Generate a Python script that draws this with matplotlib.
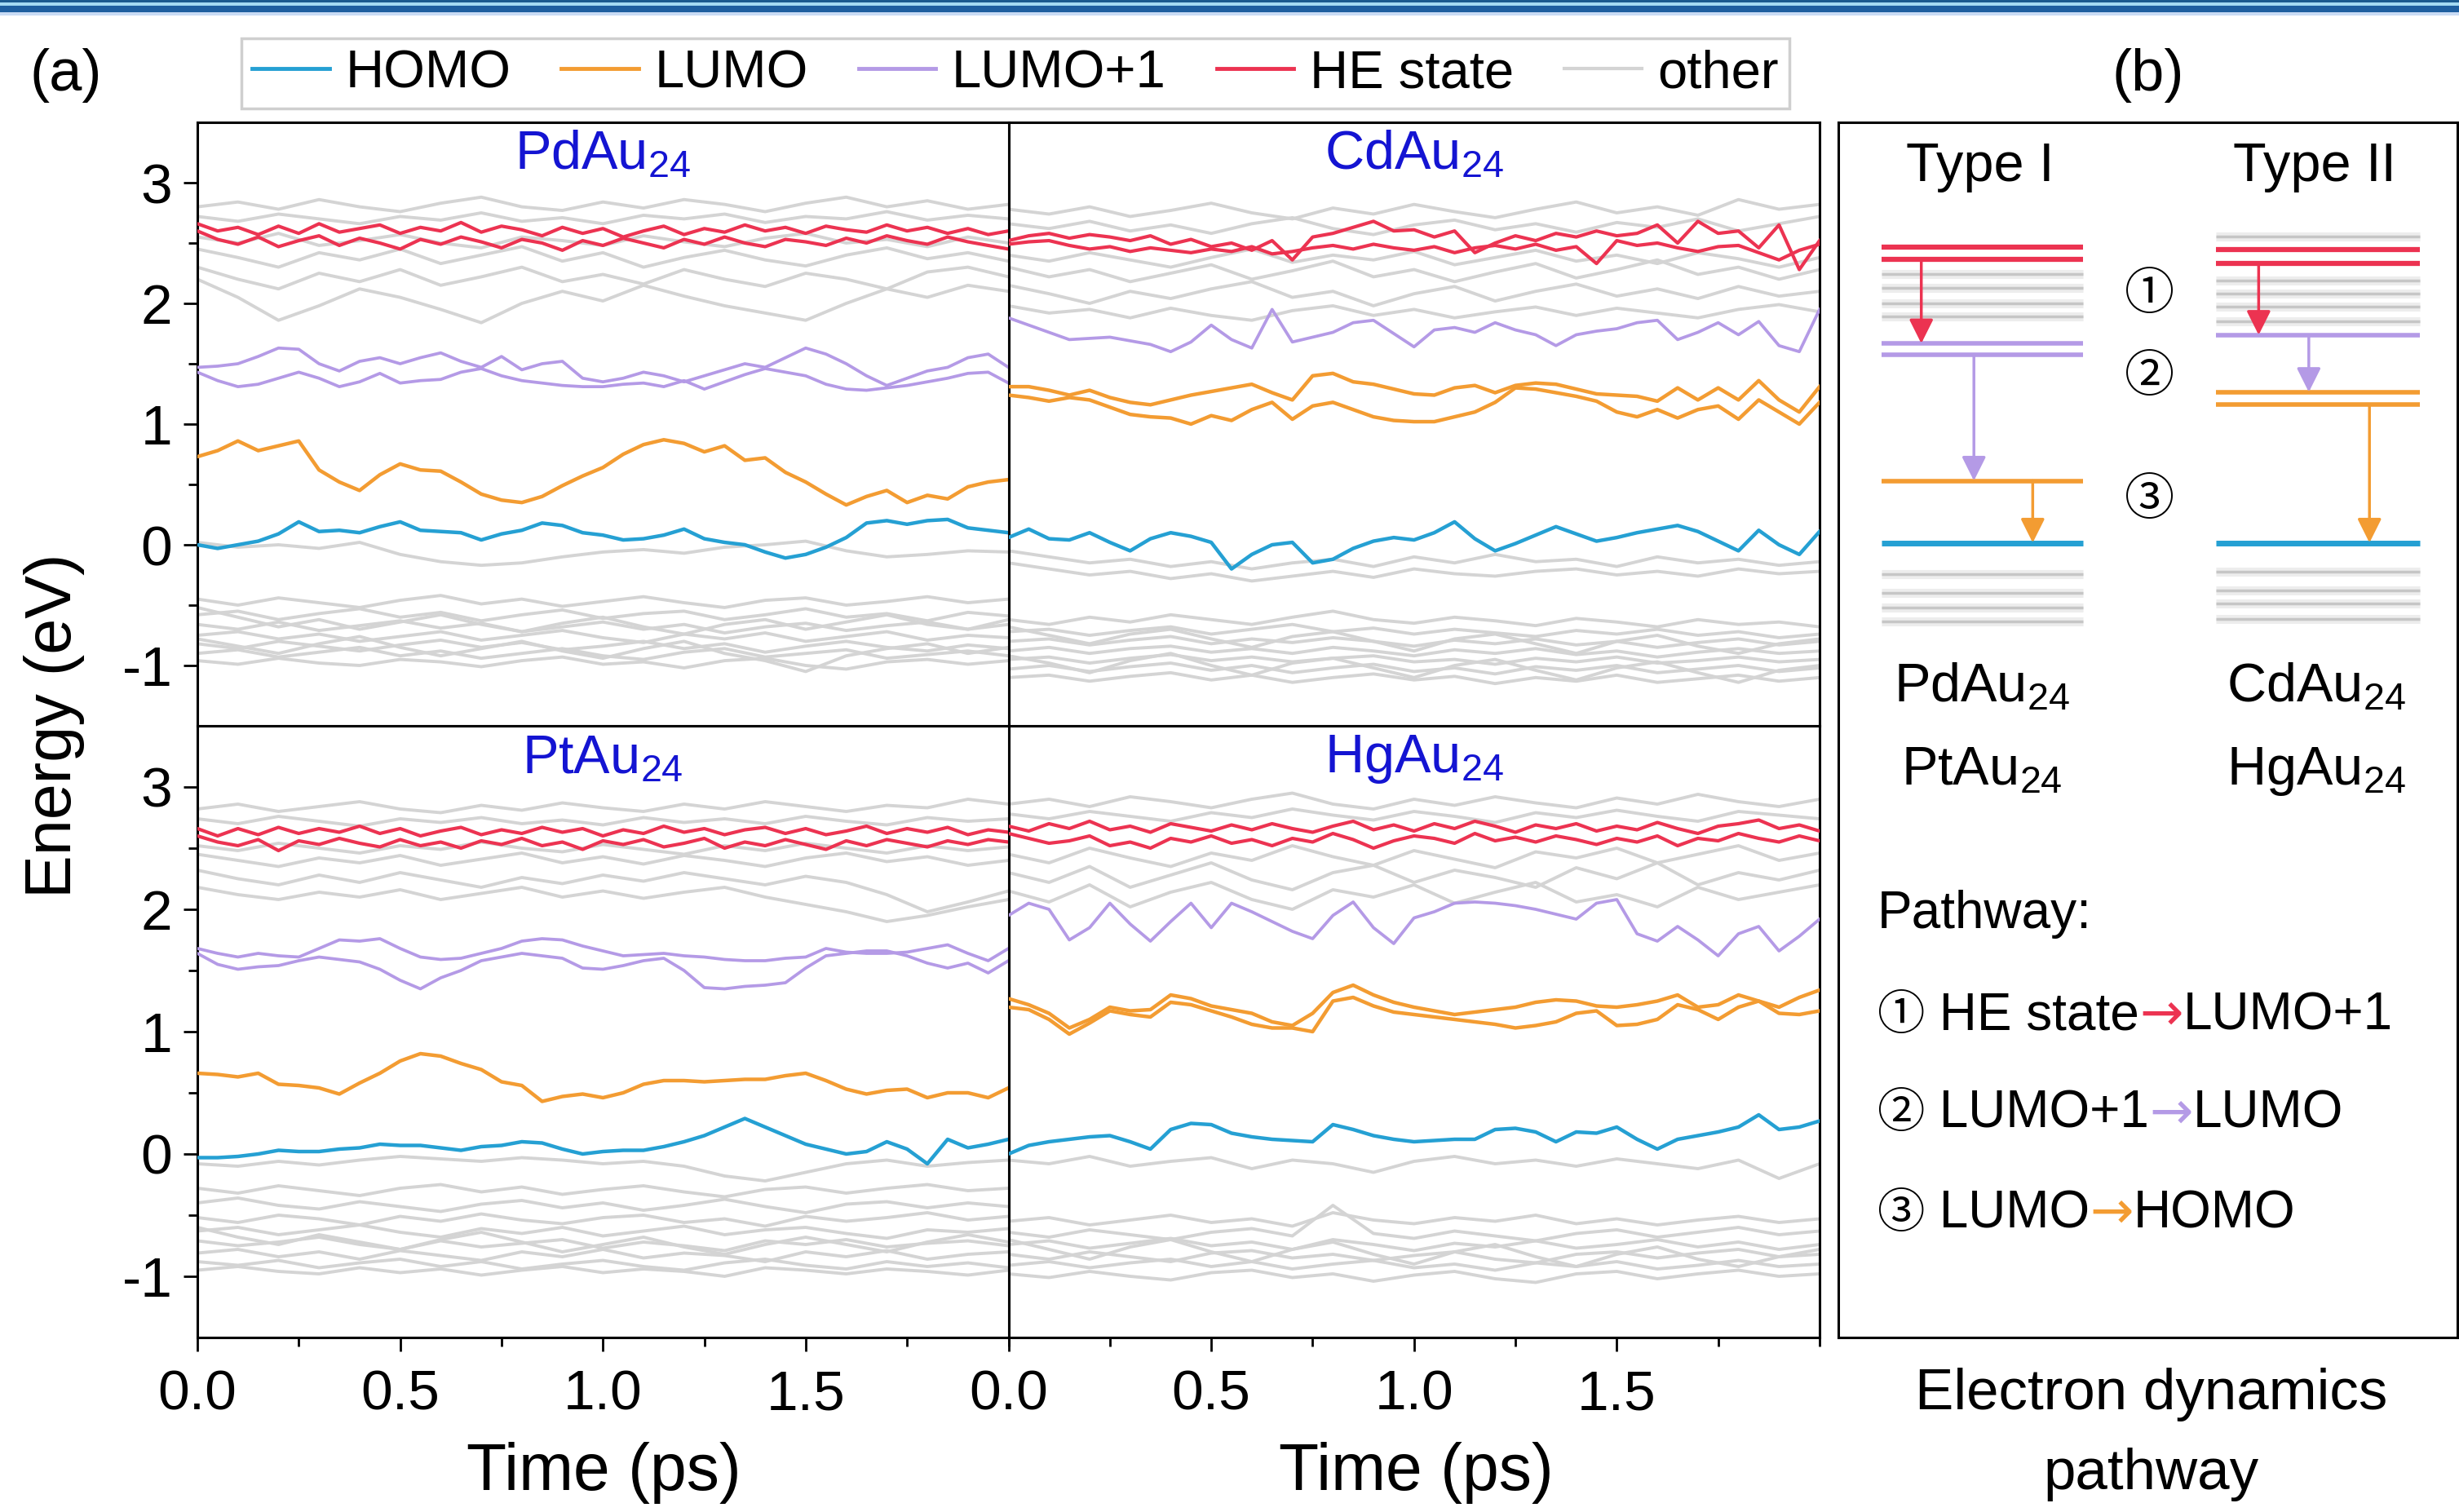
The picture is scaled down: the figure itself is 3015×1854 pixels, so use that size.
import numpy as np
import matplotlib.pyplot as plt
from matplotlib.lines import Line2D
from matplotlib.patches import Rectangle

plt.rcParams['font.family'] = ['Liberation Sans', 'Noto Sans CJK SC', 'DejaVu Sans']
plt.rcParams['mathtext.fontset'] = 'custom'
plt.rcParams['mathtext.rm'] = 'Liberation Sans'
plt.rcParams['mathtext.it'] = 'Liberation Sans:italic'
plt.rcParams['axes.unicode_minus'] = False

# colours
c_homo = '#25a0d3'
c_lumo = '#f39c32'
c_lp1 = '#b49ae6'
c_he = '#ec3351'
c_other = '#d4d4d4'
c_title = '#1414d2'

# time grids (ps): colored states sampled every 0.05 ps, other states every 0.1 ps
t_fine = np.linspace(0, 2.0, 41)
t_coarse = np.linspace(0, 2.0, 21)

# ---------------- PdAu24 ----------------
pd_homo = [0.00, -0.03, 0.00, 0.03, 0.09, 0.19, 0.11, 0.12, 0.10, 0.15, 0.19, 0.12, 0.11, 0.10, 0.04,
           0.09, 0.12, 0.18, 0.16, 0.10, 0.08, 0.04, 0.05, 0.08, 0.13, 0.05, 0.02, 0.00, -0.06, -0.11,
           -0.08, -0.02, 0.06, 0.18, 0.20, 0.17, 0.20, 0.21, 0.14, 0.12, 0.10]
pd_lumo = [[0.73, 0.78, 0.86, 0.78, 0.82, 0.86, 0.62, 0.52, 0.45, 0.58, 0.67, 0.62, 0.61, 0.52, 0.42,
            0.37, 0.35, 0.40, 0.49, 0.57, 0.64, 0.75, 0.83, 0.87, 0.84, 0.77, 0.82, 0.70, 0.72, 0.60,
            0.52, 0.42, 0.33, 0.40, 0.45, 0.35, 0.41, 0.38, 0.48, 0.52, 0.54]]
pd_lp1 = [[1.47, 1.48, 1.50, 1.56, 1.63, 1.62, 1.50, 1.44, 1.52, 1.55, 1.50, 1.55, 1.59, 1.52, 1.47,
           1.56, 1.45, 1.50, 1.52, 1.38, 1.35, 1.38, 1.43, 1.40, 1.35, 1.40, 1.45, 1.50, 1.47, 1.55,
           1.63, 1.58, 1.50, 1.40, 1.32, 1.38, 1.44, 1.47, 1.55, 1.58, 1.47],
          [1.43, 1.36, 1.31, 1.33, 1.38, 1.43, 1.38, 1.31, 1.35, 1.42, 1.34, 1.36, 1.37, 1.43, 1.46,
           1.40, 1.36, 1.34, 1.32, 1.31, 1.31, 1.33, 1.34, 1.31, 1.36, 1.29, 1.35, 1.41, 1.46, 1.43,
           1.40, 1.33, 1.29, 1.28, 1.30, 1.32, 1.35, 1.38, 1.42, 1.43, 1.34]]
pd_he = [[2.66, 2.60, 2.63, 2.57, 2.64, 2.58, 2.66, 2.59, 2.62, 2.65, 2.58, 2.63, 2.60, 2.67, 2.59,
          2.64, 2.61, 2.56, 2.63, 2.58, 2.62, 2.55, 2.60, 2.64, 2.57, 2.62, 2.59, 2.65, 2.60, 2.63,
          2.58, 2.64, 2.61, 2.59, 2.65, 2.60, 2.63, 2.58, 2.62, 2.57, 2.60],
         [2.60, 2.53, 2.49, 2.55, 2.47, 2.52, 2.56, 2.48, 2.54, 2.50, 2.45, 2.53, 2.49, 2.55, 2.51,
          2.46, 2.53, 2.50, 2.44, 2.52, 2.48, 2.54, 2.50, 2.46, 2.53, 2.49, 2.55, 2.50, 2.47, 2.53,
          2.51, 2.48, 2.54, 2.50, 2.56, 2.52, 2.49, 2.55, 2.51, 2.48, 2.45]]
pd_other = [
    [2.80, 2.84, 2.78, 2.86, 2.80, 2.76, 2.83, 2.88, 2.80, 2.77, 2.84, 2.79, 2.86, 2.82, 2.76, 2.83, 2.88, 2.80, 2.85, 2.78, 2.82],
    [2.72, 2.68, 2.74, 2.70, 2.66, 2.72, 2.69, 2.75, 2.68, 2.71, 2.66, 2.73, 2.70, 2.74, 2.67, 2.72, 2.70, 2.76, 2.69, 2.73, 2.70],
    [2.55, 2.50, 2.58, 2.48, 2.52, 2.57, 2.50, 2.46, 2.55, 2.52, 2.48, 2.56, 2.51, 2.47, 2.54, 2.58, 2.50, 2.53, 2.47, 2.55, 2.50],
    [2.45, 2.38, 2.30, 2.42, 2.36, 2.45, 2.33, 2.40, 2.47, 2.35, 2.42, 2.30, 2.38, 2.44, 2.36, 2.31, 2.40, 2.46, 2.37, 2.42, 2.35],
    [2.30, 2.20, 2.12, 2.25, 2.18, 2.28, 2.15, 2.22, 2.30, 2.18, 2.24, 2.16, 2.28, 2.20, 2.14, 2.25, 2.20, 2.12, 2.26, 2.30, 2.22],
    [2.20, 2.05, 1.86, 1.98, 2.12, 2.05, 1.95, 1.84, 2.00, 2.10, 2.02, 2.15, 2.06, 1.98, 1.92, 1.86, 2.00, 2.12, 2.05, 2.15, 2.10],
    [0.02, -0.02, 0.00, -0.03, 0.02, -0.08, -0.14, -0.17, -0.15, -0.10, -0.06, -0.04, -0.07, -0.02, 0.00, 0.03, -0.05, -0.10, -0.08, -0.05, -0.06],
    [-0.45, -0.50, -0.44, -0.48, -0.52, -0.46, -0.42, -0.49, -0.45, -0.51, -0.47, -0.43, -0.48, -0.52, -0.46, -0.44, -0.50, -0.47, -0.43, -0.48, -0.45],
    [-0.58, -0.55, -0.62, -0.57, -0.53, -0.60, -0.56, -0.63, -0.58, -0.54, -0.61, -0.57, -0.55, -0.62, -0.58, -0.53, -0.60, -0.57, -0.63, -0.56, -0.59],
    [-0.66, -0.70, -0.64, -0.71, -0.67, -0.63, -0.69, -0.65, -0.72, -0.68, -0.64, -0.70, -0.66, -0.73, -0.68, -0.65, -0.71, -0.67, -0.64, -0.70, -0.66],
    [-0.75, -0.72, -0.78, -0.74, -0.80, -0.76, -0.72, -0.79, -0.75, -0.71, -0.77, -0.81, -0.74, -0.78, -0.73, -0.80, -0.76, -0.72, -0.79, -0.75, -0.77],
    [-0.82, -0.86, -0.80, -0.84, -0.88, -0.83, -0.79, -0.85, -0.81, -0.87, -0.84, -0.80, -0.86, -0.82, -0.89, -0.84, -0.80, -0.85, -0.88, -0.83, -0.86],
    [-0.90, -0.87, -0.93, -0.89, -0.85, -0.92, -0.88, -0.94, -0.90, -0.86, -0.92, -0.95, -0.89, -0.86, -0.93, -0.90, -0.87, -0.94, -0.91, -0.88, -0.92],
    [-0.96, -0.99, -0.94, -0.98, -1.00, -0.95, -0.97, -1.01, -0.96, -0.93, -0.99, -0.97, -1.02, -0.96, -0.94, -1.00, -1.03, -0.97, -0.95, -0.99, -0.96],
    [-0.52, -0.60, -0.68, -0.62, -0.70, -0.64, -0.58, -0.66, -0.72, -0.65, -0.60, -0.68, -0.74, -0.66, -0.62, -0.70, -0.64, -0.58, -0.66, -0.70, -0.62],
    [-0.78, -0.84, -0.90, -0.82, -0.76, -0.85, -0.92, -0.86, -0.80, -0.88, -0.94, -0.86, -0.80, -0.90, -0.96, -1.05, -0.92, -0.86, -0.82, -0.90, -0.85],
]

# ---------------- CdAu24 ----------------
cd_homo = [0.06, 0.13, 0.05, 0.04, 0.10, 0.02, -0.05, 0.05, 0.10, 0.07, 0.02, -0.20, -0.08, 0.00, 0.02,
           -0.15, -0.12, -0.03, 0.03, 0.06, 0.04, 0.10, 0.19, 0.05, -0.05, 0.01, 0.08, 0.15, 0.09, 0.03,
           0.06, 0.10, 0.13, 0.16, 0.11, 0.03, -0.05, 0.12, 0.00, -0.08, 0.11]
cd_lumo = [[1.31, 1.31, 1.28, 1.24, 1.28, 1.22, 1.18, 1.16, 1.20, 1.24, 1.27, 1.30, 1.33, 1.26, 1.20,
            1.40, 1.42, 1.35, 1.33, 1.29, 1.25, 1.24, 1.30, 1.32, 1.26, 1.32, 1.34, 1.33, 1.29, 1.25,
            1.24, 1.23, 1.19, 1.30, 1.20, 1.30, 1.20, 1.36, 1.20, 1.10, 1.31],
           [1.24, 1.22, 1.19, 1.22, 1.20, 1.14, 1.08, 1.06, 1.05, 1.00, 1.07, 1.03, 1.12, 1.18, 1.04,
            1.15, 1.18, 1.12, 1.06, 1.03, 1.02, 1.02, 1.06, 1.10, 1.18, 1.30, 1.29, 1.26, 1.23, 1.19,
            1.10, 1.06, 1.12, 1.05, 1.12, 1.15, 1.04, 1.20, 1.10, 1.00, 1.18]]
cd_lp1 = [[1.88, 1.82, 1.76, 1.70, 1.71, 1.72, 1.69, 1.66, 1.60, 1.68, 1.82, 1.70, 1.63, 1.95, 1.68,
           1.72, 1.76, 1.84, 1.86, 1.75, 1.64, 1.78, 1.80, 1.76, 1.84, 1.78, 1.74, 1.65, 1.74, 1.77,
           1.79, 1.84, 1.86, 1.70, 1.76, 1.84, 1.74, 1.85, 1.65, 1.60, 1.95]]
cd_he = [[2.52, 2.56, 2.58, 2.54, 2.57, 2.55, 2.52, 2.56, 2.49, 2.53, 2.47, 2.50, 2.44, 2.52, 2.36,
          2.55, 2.58, 2.63, 2.68, 2.60, 2.61, 2.55, 2.60, 2.42, 2.50, 2.56, 2.52, 2.58, 2.55, 2.60,
          2.56, 2.58, 2.65, 2.50, 2.68, 2.58, 2.60, 2.46, 2.65, 2.28, 2.52],
         [2.49, 2.51, 2.52, 2.48, 2.45, 2.47, 2.43, 2.46, 2.44, 2.42, 2.45, 2.43, 2.47, 2.41, 2.43,
          2.46, 2.48, 2.45, 2.49, 2.46, 2.44, 2.47, 2.42, 2.46, 2.48, 2.45, 2.49, 2.44, 2.47, 2.33,
          2.52, 2.48, 2.50, 2.46, 2.43, 2.47, 2.48, 2.42, 2.36, 2.44, 2.49]]
cd_other = [
    [2.78, 2.74, 2.80, 2.72, 2.77, 2.83, 2.75, 2.70, 2.79, 2.74, 2.82, 2.76, 2.71, 2.78, 2.84, 2.75, 2.80, 2.73, 2.86, 2.78, 2.82],
    [2.66, 2.62, 2.68, 2.60, 2.65, 2.58, 2.66, 2.71, 2.62, 2.57, 2.65, 2.69, 2.61, 2.66, 2.59, 2.67, 2.63, 2.70, 2.60, 2.66, 2.72],
    [2.40, 2.35, 2.42, 2.36, 2.30, 2.38, 2.45, 2.34, 2.40, 2.36, 2.43, 2.32, 2.38, 2.44, 2.35, 2.40, 2.33, 2.42, 2.37, 2.30, 2.38],
    [2.30, 2.22, 2.28, 2.18, 2.25, 2.32, 2.20, 2.27, 2.35, 2.22, 2.28, 2.18, 2.26, 2.33, 2.21, 2.28, 2.36, 2.24, 2.30, 2.20, 2.28],
    [2.15, 2.08, 2.00, 2.10, 2.04, 2.12, 2.18, 2.05, 2.10, 1.98, 2.08, 2.14, 2.02, 2.10, 2.16, 2.06, 2.12, 2.04, 2.14, 2.06, 2.10],
    [1.98, 1.92, 1.95, 1.88, 1.96, 1.90, 1.86, 1.94, 1.98, 1.90, 1.95, 1.88, 1.93, 1.97, 1.90, 1.96, 1.92, 1.88, 1.95, 1.99, 1.93],
    [-0.05, -0.10, -0.15, -0.12, -0.18, -0.14, -0.20, -0.15, -0.12, -0.18, -0.10, -0.15, -0.08, -0.14, -0.12, -0.18, -0.10, -0.15, -0.12, -0.17, -0.14],
    [-0.15, -0.20, -0.25, -0.22, -0.28, -0.24, -0.30, -0.26, -0.22, -0.27, -0.20, -0.24, -0.26, -0.22, -0.20, -0.25, -0.22, -0.26, -0.20, -0.24, -0.22],
    [-0.62, -0.66, -0.60, -0.64, -0.58, -0.62, -0.66, -0.60, -0.55, -0.62, -0.65, -0.60, -0.63, -0.67, -0.61, -0.64, -0.68, -0.62, -0.66, -0.64, -0.68],
    [-0.72, -0.70, -0.75, -0.71, -0.68, -0.74, -0.70, -0.66, -0.72, -0.69, -0.74, -0.70, -0.73, -0.76, -0.71, -0.74, -0.70, -0.75, -0.72, -0.77, -0.74],
    [-0.80, -0.78, -0.83, -0.79, -0.76, -0.82, -0.78, -0.81, -0.77, -0.80, -0.84, -0.79, -0.82, -0.78, -0.83, -0.80, -0.85, -0.81, -0.78, -0.83, -0.80],
    [-0.88, -0.85, -0.90, -0.86, -0.84, -0.89, -0.86, -0.90, -0.85, -0.88, -0.92, -0.87, -0.90, -0.86, -0.91, -0.88, -0.93, -0.89, -0.86, -0.90, -0.88],
    [-0.95, -0.93, -0.98, -0.94, -0.91, -0.96, -0.93, -0.97, -0.94, -0.92, -0.97, -0.95, -0.99, -0.94, -0.97, -0.93, -0.98, -0.96, -0.93, -0.97, -0.95],
    [-1.03, -1.00, -1.05, -1.01, -0.98, -1.04, -1.00, -1.06, -1.02, -0.99, -1.05, -1.02, -1.07, -1.01, -1.04, -1.00, -1.06, -1.03, -1.00, -1.05, -1.02],
    [-1.10, -1.08, -1.13, -1.09, -1.06, -1.12, -1.08, -1.14, -1.10, -1.07, -1.12, -1.09, -1.15, -1.10, -1.13, -1.08, -1.14, -1.11, -1.08, -1.13, -1.10],
    [-0.68, -0.75, -0.82, -0.74, -0.70, -0.78, -0.85, -0.76, -0.72, -0.80, -0.88, -0.78, -0.74, -0.82, -0.90, -0.80, -0.75, -0.84, -0.90, -0.82, -0.78],
    [-0.92, -0.98, -1.06, -0.96, -0.90, -1.00, -1.08, -0.98, -0.94, -1.02, -1.10, -1.00, -0.95, -1.04, -1.12, -1.02, -0.97, -1.06, -1.14, -1.04, -1.00],
]

# ---------------- PtAu24 ----------------
pt_homo = [-0.03, -0.03, -0.02, 0.00, 0.03, 0.02, 0.02, 0.04, 0.05, 0.08, 0.07, 0.07, 0.05, 0.03, 0.06,
           0.07, 0.10, 0.09, 0.04, 0.00, 0.02, 0.03, 0.03, 0.06, 0.10, 0.15, 0.22, 0.29, 0.22, 0.15,
           0.08, 0.04, 0.00, 0.02, 0.10, 0.04, -0.08, 0.12, 0.05, 0.08, 0.12]
pt_lumo = [[0.66, 0.65, 0.63, 0.66, 0.57, 0.56, 0.54, 0.49, 0.58, 0.66, 0.76, 0.82, 0.80, 0.74, 0.69,
            0.59, 0.56, 0.43, 0.47, 0.49, 0.46, 0.50, 0.57, 0.60, 0.60, 0.59, 0.60, 0.61, 0.61, 0.64,
            0.66, 0.60, 0.53, 0.49, 0.52, 0.53, 0.46, 0.50, 0.50, 0.46, 0.54]]
pt_lp1 = [[1.68, 1.64, 1.61, 1.64, 1.62, 1.61, 1.68, 1.75, 1.74, 1.76, 1.68, 1.61, 1.59, 1.60, 1.64,
           1.68, 1.74, 1.76, 1.75, 1.70, 1.66, 1.62, 1.63, 1.64, 1.62, 1.61, 1.59, 1.58, 1.58, 1.60,
           1.61, 1.68, 1.65, 1.64, 1.64, 1.65, 1.68, 1.71, 1.64, 1.58, 1.68],
          [1.64, 1.55, 1.51, 1.53, 1.54, 1.58, 1.61, 1.59, 1.57, 1.51, 1.42, 1.35, 1.44, 1.50, 1.58,
           1.61, 1.64, 1.62, 1.60, 1.52, 1.51, 1.54, 1.58, 1.60, 1.50, 1.36, 1.35, 1.37, 1.38, 1.40,
           1.52, 1.62, 1.64, 1.66, 1.66, 1.62, 1.56, 1.52, 1.56, 1.48, 1.58]]
pt_he = [[2.66, 2.60, 2.66, 2.61, 2.67, 2.62, 2.66, 2.63, 2.68, 2.62, 2.66, 2.60, 2.64, 2.67, 2.61,
          2.65, 2.62, 2.67, 2.63, 2.66, 2.60, 2.65, 2.62, 2.68, 2.63, 2.66, 2.61, 2.65, 2.67, 2.62,
          2.66, 2.61, 2.64, 2.68, 2.62, 2.66, 2.63, 2.67, 2.61, 2.65, 2.63],
         [2.60, 2.55, 2.52, 2.57, 2.48, 2.56, 2.53, 2.58, 2.54, 2.51, 2.57, 2.52, 2.55, 2.50, 2.56,
          2.53, 2.58, 2.52, 2.55, 2.49, 2.56, 2.53, 2.57, 2.51, 2.54, 2.58, 2.50, 2.55, 2.52, 2.57,
          2.53, 2.49, 2.56, 2.52, 2.57, 2.54, 2.51, 2.56, 2.53, 2.57, 2.55]]
pt_other = [
    [2.82, 2.86, 2.80, 2.84, 2.88, 2.82, 2.79, 2.85, 2.81, 2.87, 2.83, 2.80, 2.86, 2.82, 2.88, 2.84, 2.80, 2.85, 2.83, 2.90, 2.86],
    [2.74, 2.70, 2.76, 2.72, 2.68, 2.74, 2.71, 2.75, 2.70, 2.73, 2.69, 2.75, 2.71, 2.74, 2.70, 2.76, 2.72, 2.69, 2.75, 2.72, 2.74],
    [2.52, 2.48, 2.54, 2.50, 2.46, 2.52, 2.49, 2.55, 2.50, 2.47, 2.53, 2.49, 2.45, 2.52, 2.48, 2.54, 2.50, 2.46, 2.52, 2.48, 2.51],
    [2.45, 2.40, 2.35, 2.42, 2.38, 2.44, 2.36, 2.41, 2.46, 2.38, 2.43, 2.37, 2.44, 2.40, 2.35, 2.42, 2.46, 2.39, 2.43, 2.36, 2.40],
    [2.32, 2.25, 2.20, 2.28, 2.22, 2.30, 2.24, 2.18, 2.26, 2.21, 2.28, 2.23, 2.30, 2.25, 2.20, 2.27, 2.22, 2.12, 1.98, 2.06, 2.15],
    [2.18, 2.12, 2.08, 2.14, 2.10, 2.16, 2.08, 2.13, 2.18, 2.10, 2.15, 2.09, 2.14, 2.18, 2.10, 2.04, 1.98, 1.90, 1.95, 2.02, 2.08],
    [-0.08, -0.10, -0.06, -0.09, -0.05, -0.02, -0.04, -0.06, -0.03, -0.05, -0.08, -0.06, -0.10, -0.18, -0.22, -0.15, -0.08, -0.05, -0.10, -0.07, -0.05],
    [-0.28, -0.32, -0.26, -0.30, -0.34, -0.28, -0.25, -0.31, -0.27, -0.33, -0.29, -0.26, -0.31, -0.35, -0.29, -0.27, -0.32, -0.28, -0.25, -0.30, -0.28],
    [-0.40, -0.36, -0.42, -0.45, -0.39, -0.43, -0.47, -0.41, -0.38, -0.44, -0.40, -0.46, -0.42, -0.37, -0.43, -0.48, -0.41, -0.39, -0.44, -0.40, -0.43],
    [-0.52, -0.56, -0.50, -0.53, -0.58, -0.51, -0.55, -0.49, -0.54, -0.57, -0.52, -0.50, -0.56, -0.53, -0.59, -0.51, -0.55, -0.52, -0.48, -0.54, -0.51],
    [-0.63, -0.60, -0.66, -0.62, -0.58, -0.64, -0.68, -0.61, -0.65, -0.60, -0.67, -0.63, -0.59, -0.66, -0.62, -0.60, -0.65, -0.69, -0.62, -0.64, -0.61],
    [-0.71, -0.75, -0.72, -0.68, -0.74, -0.78, -0.71, -0.76, -0.73, -0.70, -0.77, -0.72, -0.75, -0.79, -0.71, -0.74, -0.70, -0.76, -0.73, -0.71, -0.75],
    [-0.81, -0.78, -0.84, -0.80, -0.86, -0.79, -0.83, -0.87, -0.80, -0.84, -0.78, -0.85, -0.81, -0.83, -0.88, -0.80, -0.84, -0.79, -0.86, -0.82, -0.80],
    [-0.88, -0.91, -0.87, -0.93, -0.89, -0.86, -0.92, -0.88, -0.94, -0.90, -0.87, -0.92, -0.95, -0.89, -0.86, -0.91, -0.94, -0.88, -0.92, -0.89, -0.93],
    [-0.95, -0.92, -0.96, -0.98, -0.93, -0.97, -0.94, -0.99, -0.95, -0.92, -0.97, -0.94, -0.96, -1.00, -0.93, -0.95, -0.98, -0.94, -0.96, -0.99, -0.95],
    [-0.60, -0.68, -0.74, -0.66, -0.72, -0.78, -0.70, -0.64, -0.72, -0.80, -0.74, -0.68, -0.76, -0.82, -0.74, -0.68, -0.74, -0.80, -0.72, -0.66, -0.72],
]

# ---------------- HgAu24 ----------------
hg_homo = [0.00, 0.07, 0.10, 0.12, 0.14, 0.15, 0.10, 0.04, 0.20, 0.25, 0.24, 0.17, 0.14, 0.12, 0.11,
           0.10, 0.24, 0.20, 0.15, 0.12, 0.10, 0.11, 0.12, 0.12, 0.20, 0.21, 0.18, 0.10, 0.18, 0.17,
           0.22, 0.12, 0.04, 0.12, 0.15, 0.18, 0.22, 0.32, 0.20, 0.22, 0.27]
hg_lumo = [[1.27, 1.22, 1.15, 1.03, 1.10, 1.20, 1.17, 1.18, 1.30, 1.27, 1.21, 1.18, 1.15, 1.08, 1.05,
            1.15, 1.32, 1.38, 1.30, 1.24, 1.20, 1.17, 1.14, 1.16, 1.18, 1.20, 1.24, 1.26, 1.25, 1.21,
            1.20, 1.22, 1.25, 1.30, 1.20, 1.22, 1.30, 1.25, 1.20, 1.28, 1.34],
           [1.20, 1.18, 1.10, 0.98, 1.07, 1.17, 1.14, 1.12, 1.24, 1.22, 1.17, 1.12, 1.06, 1.03, 1.03,
            1.00, 1.25, 1.28, 1.21, 1.16, 1.14, 1.12, 1.10, 1.08, 1.06, 1.03, 1.05, 1.08, 1.15, 1.17,
            1.05, 1.06, 1.10, 1.22, 1.18, 1.10, 1.20, 1.25, 1.15, 1.14, 1.17]]
hg_lp1 = [[1.95, 2.05, 2.00, 1.75, 1.85, 2.05, 1.88, 1.74, 1.90, 2.05, 1.85, 2.05, 1.98, 1.90, 1.82,
           1.76, 1.95, 2.06, 1.85, 1.72, 1.93, 1.98, 2.05, 2.06, 2.05, 2.03, 2.00, 1.96, 1.92, 2.05,
           2.08, 1.80, 1.74, 1.86, 1.75, 1.62, 1.80, 1.86, 1.66, 1.78, 1.92]]
hg_he = [[2.68, 2.64, 2.70, 2.66, 2.72, 2.65, 2.68, 2.63, 2.70, 2.67, 2.64, 2.69, 2.65, 2.70, 2.66,
          2.63, 2.68, 2.72, 2.65, 2.69, 2.64, 2.70, 2.66, 2.72, 2.68, 2.63, 2.69, 2.66, 2.70, 2.64,
          2.68, 2.65, 2.71, 2.66, 2.62, 2.68, 2.70, 2.73, 2.66, 2.69, 2.64],
         [2.62, 2.58, 2.54, 2.56, 2.60, 2.52, 2.55, 2.50, 2.58, 2.55, 2.60, 2.54, 2.57, 2.52, 2.58,
          2.55, 2.62, 2.57, 2.50, 2.56, 2.60, 2.58, 2.54, 2.62, 2.56, 2.59, 2.55, 2.60, 2.57, 2.53,
          2.58, 2.55, 2.60, 2.52, 2.58, 2.56, 2.62, 2.58, 2.55, 2.60, 2.56]]
hg_other = [
    [2.86, 2.90, 2.84, 2.92, 2.88, 2.83, 2.90, 2.95, 2.86, 2.82, 2.90, 2.85, 2.92, 2.87, 2.83, 2.91, 2.86, 2.94, 2.88, 2.84, 2.90],
    [2.78, 2.74, 2.80, 2.76, 2.72, 2.79, 2.75, 2.82, 2.77, 2.73, 2.80, 2.76, 2.71, 2.79, 2.75, 2.81, 2.76, 2.72, 2.80, 2.77, 2.74],
    [2.45, 2.38, 2.50, 2.42, 2.35, 2.46, 2.40, 2.52, 2.43, 2.36, 2.48, 2.41, 2.34, 2.47, 2.42, 2.50, 2.38, 2.45, 2.52, 2.40, 2.46],
    [2.30, 2.22, 2.35, 2.18, 2.28, 2.38, 2.24, 2.16, 2.30, 2.36, 2.22, 2.32, 2.26, 2.18, 2.34, 2.25, 2.38, 2.20, 2.30, 2.24, 2.32],
    [2.15, 2.06, 2.20, 2.02, 2.14, 2.22, 2.08, 2.00, 2.16, 2.10, 2.20, 2.05, 2.14, 2.22, 2.06, 2.12, 2.02, 2.18, 2.08, 2.14, 2.20],
    [-0.05, -0.08, -0.02, -0.10, -0.06, -0.03, -0.12, -0.05, -0.08, -0.15, -0.06, -0.02, -0.08, -0.05, -0.10, -0.04, -0.08, -0.12, -0.05, -0.20, -0.08],
    [-0.55, -0.52, -0.58, -0.54, -0.50, -0.56, -0.53, -0.59, -0.48, -0.54, -0.57, -0.52, -0.55, -0.50, -0.57, -0.53, -0.58, -0.54, -0.51, -0.56, -0.53],
    [-0.64, -0.68, -0.62, -0.66, -0.70, -0.64, -0.61, -0.67, -0.42, -0.65, -0.69, -0.63, -0.67, -0.71, -0.65, -0.62, -0.68, -0.64, -0.60, -0.66, -0.63],
    [-0.74, -0.71, -0.77, -0.73, -0.69, -0.75, -0.72, -0.78, -0.70, -0.74, -0.79, -0.73, -0.76, -0.71, -0.77, -0.74, -0.70, -0.76, -0.72, -0.78, -0.74],
    [-0.82, -0.86, -0.80, -0.84, -0.88, -0.81, -0.79, -0.85, -0.82, -0.87, -0.83, -0.80, -0.86, -0.89, -0.82, -0.80, -0.85, -0.81, -0.78, -0.84, -0.82],
    [-0.91, -0.88, -0.93, -0.89, -0.86, -0.92, -0.88, -0.94, -0.90, -0.87, -0.93, -0.90, -0.95, -0.89, -0.92, -0.88, -0.94, -0.91, -0.87, -0.92, -0.90],
    [-0.98, -1.01, -0.96, -1.00, -1.03, -0.97, -0.95, -1.01, -0.98, -1.04, -0.99, -0.96, -1.02, -1.05, -0.98, -0.96, -1.02, -0.98, -0.95, -1.00, -0.98],
    [-0.70, -0.78, -0.86, -0.76, -0.70, -0.80, -0.88, -0.78, -0.72, -0.82, -0.90, -0.80, -0.74, -0.84, -0.92, -0.82, -0.76, -0.86, -0.92, -0.84, -0.78],
]

# ---------------- schematic (b): level heights in axes fraction ----------------
type1_red = [0.897, 0.887]
type1_lp1 = [0.818, 0.809]
type1_lumo = [0.705]
type1_homo = [0.654]
type1_gray = [0.875, 0.864, 0.851, 0.840, 0.628, 0.613, 0.601, 0.589]
type2_red = [0.895, 0.884]
type2_lp1 = [0.825]
type2_lumo = [0.778, 0.768]
type2_homo = [0.654]
type2_gray = [0.906, 0.870, 0.859, 0.848, 0.836, 0.630, 0.615, 0.604, 0.591]

W, H = 3015, 1854
fig = plt.figure(figsize=(W / 100, H / 100), dpi=100)

# slide header stripes
for y0, h, col in [(0, 3, '#1b5a8f'), (3, 4, '#a4daf2'), (7, 8, '#1f5fa0'), (15, 4, '#c9dbf5')]:
    fig.add_artist(Rectangle((0, 1 - (y0 + h) / H), 1, h / H, transform=fig.transFigure,
                             color=col, lw=0, zorder=0))

xl, xm, xr = 242 / W, 1236.5 / W, 2231 / W
yt, ym, yb = 1 - 150 / H, 1 - 890 / H, 1 - 1640 / H

panels = [
    ('PdAu$_{24}$', [xl, ym, xm - xl, yt - ym], pd_homo, pd_lumo, pd_lp1, pd_he, pd_other, True, False),
    ('CdAu$_{24}$', [xm, ym, xr - xm, yt - ym], cd_homo, cd_lumo, cd_lp1, cd_he, cd_other, False, False),
    ('PtAu$_{24}$', [xl, yb, xm - xl, ym - yb], pt_homo, pt_lumo, pt_lp1, pt_he, pt_other, True, True),
    ('HgAu$_{24}$', [xm, yb, xr - xm, ym - yb], hg_homo, hg_lumo, hg_lp1, hg_he, hg_other, False, True),
]

for name, rect, homo, lumo, lp1, he, other, show_y, show_x in panels:
    ax = fig.add_axes(rect)
    for y in other:
        ax.plot(t_coarse, y, color=c_other, lw=2.8, zorder=1)
    for y in lp1:
        ax.plot(t_fine, y, color=c_lp1, lw=2.7, zorder=3)
    for y in lumo:
        ax.plot(t_fine, y, color=c_lumo, lw=3.2, zorder=3)
    for y in he:
        ax.plot(t_fine, y, color=c_he, lw=3.0, zorder=3)
    ax.plot(t_fine, homo, color=c_homo, lw=3.2, zorder=4)

    ax.set_xlim(0, 2.0)
    ax.set_ylim(-1.5, 3.5)
    ax.set_xticks([0, 0.5, 1.0, 1.5])
    ax.set_xticklabels(['0.0', '0.5', '1.0', '1.5'])
    ax.set_xticks([0.25, 0.75, 1.25, 1.75, 2.0], minor=True)
    ax.set_yticks([-1, 0, 1, 2, 3])
    ax.set_yticklabels(['-1', '0', '1', '2', '3'])
    ax.set_yticks([-0.5, 0.5, 1.5, 2.5], minor=True)
    ax.tick_params(which='both', direction='out', width=2, labelsize=50)
    ax.tick_params(axis='y', pad=10)
    ax.tick_params(axis='x', pad=16)
    ax.tick_params(which='major', length=12)
    ax.tick_params(which='minor', length=8)
    if not show_x:
        ax.tick_params(axis='x', which='both', bottom=False, labelbottom=False)
    if not show_y:
        ax.tick_params(axis='y', which='both', left=False, labelleft=False)
    for s in ax.spines.values():
        s.set_linewidth(2.2)
    ax.text(0.5, 0.945, name, transform=ax.transAxes, ha='center', va='center',
            fontsize=48, color=c_title)

fig.text(67 / W, 1 - 890 / H, 'Energy (eV)', rotation=90, ha='center', va='center', fontsize=57)
fig.text(740 / W, 0.026, 'Time (ps)', ha='center', va='center', fontsize=58)
fig.text(1736 / W, 0.026, 'Time (ps)', ha='center', va='center', fontsize=58)
fig.text(81 / W, 1 - 92 / H, '(a)', ha='center', va='center', fontsize=52)
fig.text(2634 / W, 1 - 92 / H, '(b)', ha='center', va='center', fontsize=52)

handles = [Line2D([], [], color=c_homo, lw=3.5), Line2D([], [], color=c_lumo, lw=3.5),
           Line2D([], [], color=c_lp1, lw=3.5), Line2D([], [], color=c_he, lw=3.5),
           Line2D([], [], color=c_other, lw=3)]
labels = ['HOMO', 'LUMO', 'LUMO+1', 'HE state', 'other']
leg = fig.legend(handles, labels, loc='center', bbox_to_anchor=(1245 / W, 1 - 90 / H), ncol=5,
                 fontsize=47, frameon=True, fancybox=False, handlelength=1.45, handletextpad=0.3,
                 columnspacing=0.95, borderpad=0.2, borderaxespad=0)
leg.get_frame().set_edgecolor('#c4c4c4')
leg.get_frame().set_linewidth(2.5)

# ---------------- panel (b) ----------------
axb = fig.add_axes([2254 / W, yb, (3013 - 2254) / W, yt - yb])
axb.set_xlim(0, 1)
axb.set_ylim(0, 1)
axb.set_xticks([])
axb.set_yticks([])
for s in axb.spines.values():
    s.set_linewidth(2.2)

cols = [(0.07, 0.395), (0.61, 0.939)]
for (x0, x1), grays, reds, lp1s, lumos, homos in [
        (cols[0], type1_gray, type1_red, type1_lp1, type1_lumo, type1_homo),
        (cols[1], type2_gray, type2_red, type2_lp1, type2_lumo, type2_homo)]:
    axb.hlines(grays, x0, x1, colors='#ededed', lw=8, zorder=1)
    axb.hlines(grays, x0, x1, colors='#c6c6c6', lw=2.5, zorder=2)
    axb.hlines(reds, x0, x1, colors=c_he, lw=4.5, zorder=3)
    axb.hlines(lp1s, x0, x1, colors=c_lp1, lw=4, zorder=3)
    axb.hlines(lumos, x0, x1, colors=c_lumo, lw=4, zorder=3)
    axb.hlines(homos, x0, x1, colors=c_homo, lw=5, zorder=3)


def down_arrow(x, y0, y1, col):
    axb.annotate('', xy=(x, y1), xytext=(x, y0),
                 arrowprops=dict(arrowstyle='-|>', color=col, lw=2.5, mutation_scale=45,
                                 shrinkA=0, shrinkB=0), zorder=4)


down_arrow(0.134, type1_red[1], type1_lp1[0], c_he)
down_arrow(0.219, type1_lp1[1], type1_lumo[0], c_lp1)
down_arrow(0.314, type1_lumo[0], type1_homo[0], c_lumo)
down_arrow(0.679, type2_red[1], type2_lp1[0], c_he)
down_arrow(0.760, type2_lp1[0], type2_lumo[0], c_lp1)
down_arrow(0.858, type2_lumo[1], type2_homo[0], c_lumo)

circ_font = ['Noto Sans CJK SC', 'DejaVu Sans']
for y, s in [(0.858, '①'), (0.790, '②'), (0.689, '③')]:
    axb.text(0.502, y, s, ha='center', va='center', fontsize=44, family=circ_font)

axb.text(0.229, 0.963, 'Type I', ha='center', va='center', fontsize=48)
axb.text(0.769, 0.963, 'Type II', ha='center', va='center', fontsize=48)
axb.text(0.232, 0.535, 'PdAu$_{24}$', ha='center', va='center', fontsize=48)
axb.text(0.772, 0.535, 'CdAu$_{24}$', ha='center', va='center', fontsize=48)
axb.text(0.232, 0.466, 'PtAu$_{24}$', ha='center', va='center', fontsize=48)
axb.text(0.772, 0.466, 'HgAu$_{24}$', ha='center', va='center', fontsize=48)
axb.text(0.063, 0.348, 'Pathway:', ha='left', va='center', fontsize=46)

pathways = [
    (0.265, '①', ' HE state', c_he, 'LUMO+1'),
    (0.184, '②', ' LUMO+1', c_lp1, 'LUMO'),
    (0.102, '③', ' LUMO', c_lumo, 'HOMO'),
]
for y, num, src, col, dst in pathways:
    t0 = axb.text(0.063, y, num, ha='left', va='center', fontsize=42, family=circ_font)
    t1 = axb.annotate(src, xy=(1, 0.5), xycoords=t0, ha='left', va='center', fontsize=46)
    t2 = axb.annotate('→', xy=(1, 0.5), xycoords=t1, ha='left', va='center', fontsize=46,
                      color=col, family=['DejaVu Sans'])
    axb.annotate(dst, xy=(1, 0.5), xycoords=t2, ha='left', va='center', fontsize=46)

fig.text(2638 / W, 1 - 1710 / H, 'Electron dynamics', ha='center', va='center', fontsize=51)
fig.text(2638 / W, 1 - 1808 / H, 'pathway', ha='center', va='center', fontsize=51)

fig.savefig('out.png', dpi=100, facecolor='white')
